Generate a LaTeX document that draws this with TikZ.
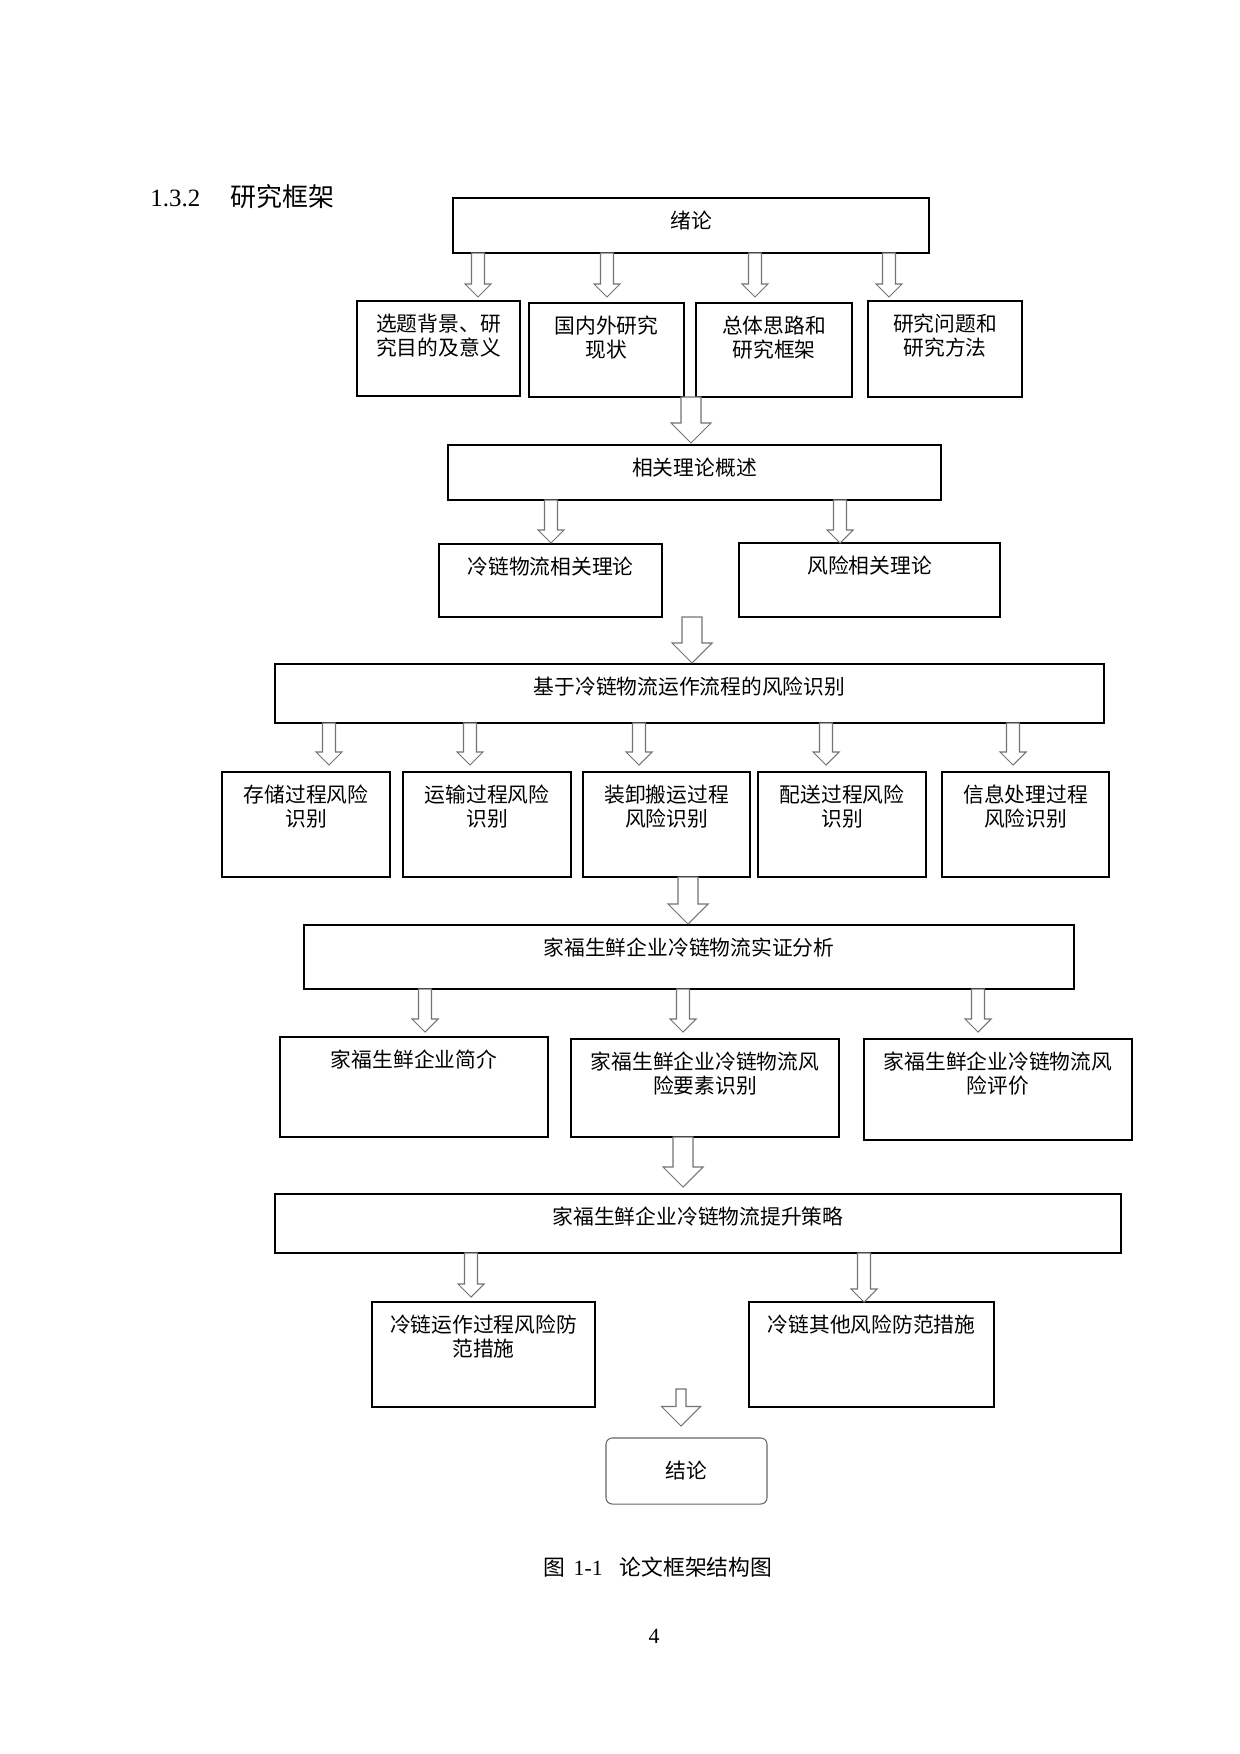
\documentclass[tikz,border=0pt]{standalone}
\usepackage{fontspec}
\setmainfont{Liberation Serif}
\newfontfamily\cjk{Noto Sans CJK SC}
\usetikzlibrary{calc}
\newlength\px
\setlength\px{0.16935mm}
% box contents: width, height (in px), text on top
\newcommand{\cell}[3]{\parbox[t][#2\px][t]{#1\px}{\centering\rule{0pt}{30\px}#3}}
% hollow arrow: x, from, to, gap, shaft half width, head half width
\newcommand{\blockarrow}[6]{%
  \draw[hollow] ($(#1,0 |- #2)+(-#5,0)$) -- ($(#1,0 |- #2)+(#5,0)$)
    -- ($(#1,0 |- #3)+(#5,-#4-#6)$) -- ($(#1,0 |- #3)+(#6,-#4-#6)$)
    -- ($(#1,0 |- #3)+(0,-#4)$) -- ($(#1,0 |- #3)+(-#6,-#4-#6)$)
    -- ($(#1,0 |- #3)+(-#5,-#4-#6)$) -- cycle;}
\begin{document}
\begin{tikzpicture}[x=0.16935mm,y=-0.16935mm]
	\tikzset{box/.style={draw=black,line width=0.7pt,inner sep=0pt,outer sep=0pt,anchor=north west,
			font=\cjk\fontsize{10pt}{11.8pt}\selectfont},
		hollow/.style={draw=black!55,line width=0.5pt,fill=white}}
	\useasboundingbox (0,0) rectangle (1240,1754);
	% heading
	\node[anchor=base west,inner sep=0pt,font=\fontsize{12pt}{14pt}\selectfont] (secnum) at (150,206) {1.3.2};
	\node[anchor=base west,inner sep=0pt,font=\cjk\fontsize{12.5pt}{14pt}\selectfont] (sectitle) at (230,206) {研究框架};
	% level 1
	\node[box] (xulun) at (453,198) {\cell{476}{55}{绪论}};
	\node[box] (bg) at (357,301) {\cell{163}{95}{选题背景、研\\究目的及意义}};
	\node[box] (xz) at (529,303) {\cell{155}{94}{国内外研究\\现状}};
	\node[box] (sl) at (696,303) {\cell{156}{94}{总体思路和\\研究框架}};
	\node[box] (ff) at (868,301) {\cell{154}{96}{研究问题和\\研究方法}};
	% level 2
	\node[box] (llgs) at (448,445) {\cell{493}{55}{相关理论概述}};
	\node[box] (llwl) at (439,544) {\cell{223}{73}{冷链物流相关理论}};
	\node[box] (llfx) at (739,543) {\cell{261}{74}{风险相关理论}};
	% level 3
	\node[box] (sbie) at (275,664) {\cell{829}{59}{基于冷链物流运作流程的风险识别}};
	\node[box] (cc) at (222,772) {\cell{168}{105}{存储过程风险\\识别}};
	\node[box] (ys) at (403,772) {\cell{168}{105}{运输过程风险\\识别}};
	\node[box] (zx) at (583,772) {\cell{167}{105}{装卸搬运过程\\风险识别}};
	\node[box] (ps) at (758,772) {\cell{168}{105}{配送过程风险\\识别}};
	\node[box] (xx) at (942,772) {\cell{167}{105}{信息处理过程\\风险识别}};
	% level 4
	\node[box] (sz) at (304,925) {\cell{770}{64}{家福生鲜企业冷链物流实证分析}};
	\node[box] (jj) at (280,1037) {\cell{268}{100}{家福生鲜企业简介}};
	\node[box] (yssb) at (571,1039) {\cell{268}{98}{家福生鲜企业冷链物流风\\险要素识别}};
	\node[box] (fxpj) at (864,1039) {\cell{268}{101}{家福生鲜企业冷链物流风\\险评价}};
	% level 5
	\node[box] (cl) at (275,1194) {\cell{846}{59}{家福生鲜企业冷链物流提升策略}};
	\node[box] (fz1) at (372,1302) {\cell{223}{105}{冷链运作过程风险防\\范措施}};
	\node[box] (fz2) at (749,1302) {\cell{245}{105}{冷链其他风险防范措施}};
	\node[box,draw=black!60,line width=0.5pt,rounded corners=3pt] (jl) at (606,1438)
		{\parbox[c][66\px][c]{161\px}{\centering 结论}};
	\coordinate (jltop) at (681,1389);
	% arrows
	\blockarrow{478}{xulun.south}{bg.north}{4}{6.5}{13}
	\blockarrow{607}{xulun.south}{xz.north}{6}{6.5}{13}
	\blockarrow{755}{xulun.south}{sl.north}{6}{6.5}{13}
	\blockarrow{889}{xulun.south}{ff.north}{4}{6.5}{13}
	\blockarrow{691}{xz.south}{llgs.north}{2}{10}{20}
	\blockarrow{551}{llgs.south}{llwl.north}{1}{6.5}{13}
	\blockarrow{840}{llgs.south}{llfx.north}{0}{6.5}{13}
	\blockarrow{692}{llwl.south}{sbie.north}{1}{10}{20}
	\blockarrow{329}{sbie.south}{cc.north}{7}{6.5}{13}
	\blockarrow{470}{sbie.south}{ys.north}{7}{6.5}{13}
	\blockarrow{639}{sbie.south}{zx.north}{7}{6.5}{13}
	\blockarrow{826}{sbie.south}{ps.north}{7}{6.5}{13}
	\blockarrow{1013}{sbie.south}{xx.north}{7}{6.5}{13}
	\blockarrow{688}{zx.south}{sz.north}{1}{10}{20}
	\blockarrow{425}{sz.south}{jj.north}{5}{6.5}{13}
	\blockarrow{683}{sz.south}{yssb.north}{7}{6.5}{13}
	\blockarrow{978}{sz.south}{fxpj.north}{7}{6.5}{13}
	\blockarrow{683}{yssb.south}{cl.north}{7}{10}{20}
	\blockarrow{471}{cl.south}{fz1.north}{5}{6.5}{13}
	\blockarrow{864}{cl.south}{fz2.north}{0}{6.5}{13}
	\blockarrow{681}{jltop}{jl.north}{12}{5}{19.5}
	% caption and page number
	\node[anchor=base,inner sep=0pt,font=\fontsize{10.5pt}{12pt}\selectfont] (caption) at (658,1575)
		{{\cjk 图}\hspace{8\px}1-1\hspace{17\px}{\cjk 论文框架结构图}};
	\node[anchor=base,inner sep=0pt,font=\fontsize{10.5pt}{12pt}\selectfont] (pageno) at (654,1643) {4};
\end{tikzpicture}
\end{document}
